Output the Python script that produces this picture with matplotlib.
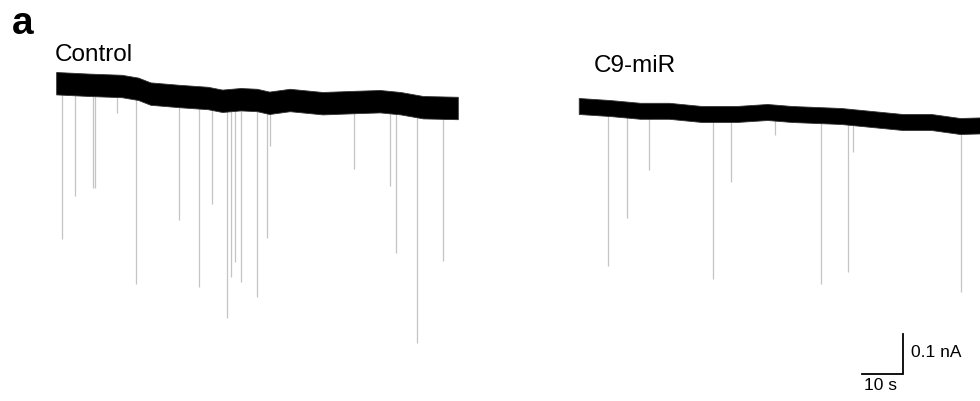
import matplotlib
matplotlib.use("Agg")
import matplotlib.pyplot as plt
import numpy as np

plt.rcParams["font.family"] = ["Liberation Sans", "DejaVu Sans"]

# Control recording: slow baseline drift (s, pA) and inward events (s, pA below baseline)
ctrl_t = [0, 8, 16, 20, 23, 30, 37, 40.5, 45, 49, 52, 57, 65, 73, 79, 84, 89.5, 98]
ctrl_base = [2, -2, -5, -12, -24, -30, -35, -42, -38, -40, -47, -40, -48, -45, -43, -48, -58, -60]
ctrl_noise = 28
ctrl_ev_t = [1.5, 4.6, 9.0, 9.5, 14.9, 19.5, 30.0, 34.9, 38.0, 41.7, 42.7, 43.7,
             45.1, 49.0, 51.5, 52.2, 72.7, 81.5, 83.0, 88.0, 94.4]
ctrl_ev_amp = [388, 280, 258, 258, 68, 488, 310, 475, 263, 543, 443, 405,
               458, 493, 340, 108, 168, 210, 375, 593, 383]

# C9-miR recording
c9_t = [0, 7.5, 15, 22, 30, 38.5, 46, 52, 64, 71, 79, 86, 93, 100]
c9_base = [0, -5, -12, -12, -20, -20, -15, -20, -25, -32, -40, -40, -50, -48]
c9_noise = 20
c9_ev_t = [7.1, 11.7, 17.1, 32.7, 37.1, 47.8, 59.0, 65.6, 66.8, 93.2]
c9_ev_amp = [395, 272, 148, 412, 170, 55, 422, 388, 88, 415]

# display offsets of the second trace (s, pA)
c9_dx, c9_dy = 127.5, -55

fig = plt.figure(figsize=(9.8, 4.02), dpi=100)
ax = fig.add_axes([0, 0, 1, 1])
ax.set_xlim(-13.7, 225.4)
ax.set_ylim(-792.5, 212.5)
ax.axis("off")


def draw_trace(t, base, noise, ev_t, ev_amp, dx=0.0, dy=0.0):
    t = np.asarray(t, float) + dx
    base = np.asarray(base, float) + dy
    et = np.asarray(ev_t, float) + dx
    eb = np.interp(et, t, base)
    ax.vlines(et, eb, eb - np.asarray(ev_amp), color="#c4c4c4", lw=0.9, zorder=1)
    ax.fill_between(t, base - noise, base + noise, color="black", lw=0.6,
                    edgecolor="#333333", zorder=2)


draw_trace(ctrl_t, ctrl_base, ctrl_noise, ctrl_ev_t, ctrl_ev_amp)
draw_trace(c9_t, c9_base, c9_noise, c9_ev_t, c9_ev_amp, c9_dx, c9_dy)

# scale bar: 10 s x 0.1 nA
sb_x, sb_y = 196.6, -725
ax.plot([sb_x, sb_x + 10, sb_x + 10], [sb_y, sb_y, sb_y + 100], color="black", lw=1.3,
        solid_joinstyle="miter")
ax.text(sb_x + 12, sb_y + 57, "0.1 nA", fontsize=12.5, va="center", ha="left")
ax.text(sb_x + 4.6, sb_y - 8, "10 s", fontsize=12.5, va="top", ha="center")

fig.text(12 / 980, 1 - 34 / 402, "a", fontsize=28, fontweight="bold", va="baseline")
fig.text(55 / 980, 1 - 61 / 402, "Control", fontsize=17.5, va="baseline")
fig.text(594 / 980, 1 - 72 / 402, "C9-miR", fontsize=17.5, va="baseline")

fig.savefig("out.png", dpi=100)
